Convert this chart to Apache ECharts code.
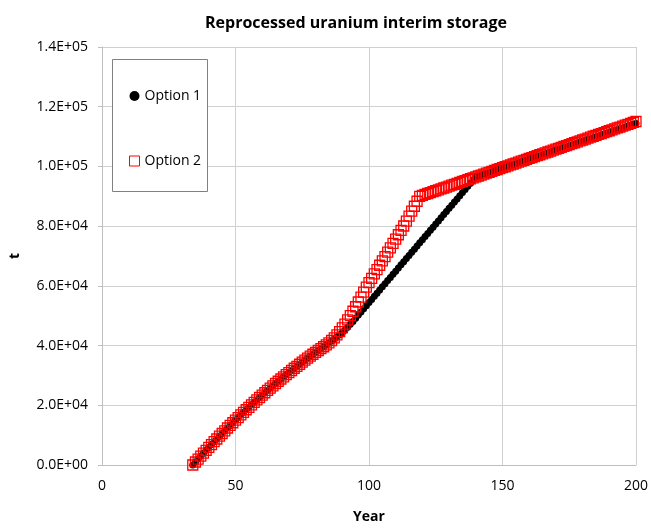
<!DOCTYPE html>
<html><head><meta charset="utf-8">
<script src="https://cdn.jsdelivr.net/npm/echarts@6/dist/echarts.min.js"></script>
<style>html,body{margin:0;padding:0;background:#fff}#c{width:651px;height:529px}</style>
</head><body><div id="c"></div>
<script>
var titleText = 'Reprocessed uranium interim storage';
var xName = 'Year';
var yName = 't';
var seriesNames = ['Option 1', 'Option 2'];

var years = [34,35,36,37,38,39,40,41,42,43,44,45,46,47,48,49,50,51,52,53,54,55,56,57,58,59,60,61,62,63,64,65,66,67,68,69,70,71,72,73,74,75,76,77,78,79,80,81,82,83,84,
85,86,87,88,89,90,91,92,93,94,95,96,97,98,99,100,101,102,103,104,105,106,107,108,109,110,111,112,113,114,115,116,117,118,119,120,121,122,123,124,125,126,127,128,129,130,131,132,133,134,135,136,137,138,139,140,
141,142,143,144,145,146,147,148,149,150,151,152,153,154,155,156,157,158,159,160,161,162,163,164,165,166,167,168,169,170,171,172,173,174,175,176,177,178,179,180,181,182,183,184,185,186,187,188,189,190,191,192,193,194,195,196,197,198,199,200];

var option1 = [0,1000,2000,3000,3950,4900,5900,6850,7800,8700,9650,10550,11450,12400,13250,14150,15050,15900,16800,17650,18500,19300,20150,21000,21800,22600,23400,24200,25000,25750,26500,27300,28050,28800,29500,30250,30950,31650,32400,33050,33750,34450,35100,35800,36450,37100,37700,38350,39000,39600,40200,
40850,41500,42150,42850,43600,44400,45250,46150,47100,48100,49150,50200,51250,52300,53360,54410,55460,56510,57560,58620,59670,60720,61770,62820,63880,64930,65980,67030,68080,69140,70190,71240,72290,73340,74400,75450,76500,77550,78600,79660,80710,81760,82810,83860,84920,85970,87020,88070,89120,90180,91230,92280,93330,94380,95440,96480,
96700,97000,97300,97600,97900,98200,98500,98800,99100,99400,99700,100000,100300,100600,100900,101200,101500,101800,102100,102400,102700,103000,103300,103600,103900,104200,104500,104800,105100,105400,105700,106000,106300,106600,106900,107200,107500,107800,108100,108400,108700,109000,109300,109600,109900,110200,110500,110800,111100,111400,111700,112000,112300,112600,112900,113200,113500,113800,114100,114400];

var option2 = [0,1000,2000,3000,3950,4900,5900,6850,7800,8700,9650,10550,11450,12400,13250,14150,15050,15900,16800,17650,18500,19300,20150,21000,21800,22600,23400,24200,25000,25750,26500,27300,28050,28800,29500,30250,30950,31650,32400,33050,33750,34450,35100,35800,36450,37100,37700,38350,39000,39600,40200,
40900,41700,42600,43600,44700,45900,47200,48600,50000,51500,53000,54600,56200,57900,59600,61060,62520,63980,65440,66900,68360,69820,71280,72740,74200,75660,77120,78580,80040,81670,83330,85000,86670,88330,90000,
90310,90620,90930,91240,91550,91850,92160,92470,92780,93090,93400,93710,94020,94330,94640,94950,95260,95560,95870,96180,96490,96800,97110,97420,97730,98040,98350,98660,98970,99270,99580,99890,100200,100510,100820,101130,101440,101750,102060,102370,102680,102980,103290,103600,103910,104220,104530,104840,105150,105460,105770,106080,106390,106690,107000,107310,107620,107930,108240,108550,108860,109170,109480,109790,110100,110400,110710,111020,111330,111640,111950,112260,112570,112880,113190,113500,113810,114110,114420,114730,115040];

function pairs(xs, ys){ var out=[]; for (var i=0;i<ys.length;i++) out.push([xs[i], ys[i]]); return out; }
function sci(v){
  if (v === 0) return '0.0E+00';
  var e = Math.floor(Math.log10(Math.abs(v)) + 1e-9);
  var m = v / Math.pow(10, e);
  return m.toFixed(1) + 'E' + (e < 0 ? '-' : '+') + (Math.abs(e) < 10 ? '0' : '') + Math.abs(e);
}

var FONT = "'Open Sans',Arial,sans-serif";
var chart = echarts.init(document.getElementById('c'), null, {renderer:'canvas'});
chart.setOption({
  animation: false,
  backgroundColor: '#ffffff',
  textStyle: {fontFamily: FONT},
  title: {
    text: titleText, left: 351, top: 10, textAlign: 'center',
    textStyle: {fontFamily: FONT, fontSize: 16, fontWeight: 'bold', color: '#000'}
  },
  grid: {left: 98, right: 13, top: 47, bottom: 64, containLabel: false},
  xAxis: {
    type: 'value', min: 0, max: 200, interval: 50,
    name: xName, nameLocation: 'middle', nameGap: 45,
    nameTextStyle: {fontFamily: FONT, fontSize: 14, fontWeight: 'bold', color: '#000'},
    axisLine: {show: true, lineStyle: {color: '#bfbfbf'}},
    axisTick: {show: false},
    axisLabel: {fontFamily: FONT, fontSize: 14, color: '#000', margin: 14},
    splitLine: {show: true, lineStyle: {color: '#d0d0d0', width: 1}}
  },
  yAxis: {
    type: 'value', min: 0, max: 140000, interval: 20000,
    name: yName, nameLocation: 'middle', nameGap: 80, nameRotate: 90,
    nameTextStyle: {fontFamily: FONT, fontSize: 14, fontWeight: 'bold', color: '#000'},
    axisLine: {show: true, lineStyle: {color: '#bfbfbf'}},
    axisTick: {show: true, length: 4, lineStyle: {color: '#bfbfbf'}},
    axisLabel: {fontFamily: FONT, fontSize: 14, color: '#000', margin: 14, formatter: sci},
    splitLine: {show: true, lineStyle: {color: '#d0d0d0', width: 1}}
  },
  graphic: [{
    type: 'rect', left: 112, top: 59, z: 50,
    shape: {width: 95, height: 132},
    style: {fill: '#ffffff', stroke: '#808080', lineWidth: 1}
  }],
  legend: {
    orient: 'vertical', left: 124, top: 84, z: 60,
    itemGap: 51, itemWidth: 10, itemHeight: 10,
    textStyle: {fontFamily: FONT, fontSize: 14, color: '#000'},
    data: [
      {name: seriesNames[0], icon: 'circle', itemStyle: {color: '#000000', borderWidth: 0}},
      {name: seriesNames[1], icon: 'rect', itemStyle: {color: '#ffffff', borderColor: '#ff0000', borderWidth: 1}}
    ]
  },
  series: [
    {
      name: seriesNames[0], type: 'scatter', symbol: 'circle', symbolSize: 7,
      itemStyle: {color: '#000000', opacity: 1},
      data: pairs(years, option1)
    },
    {
      name: seriesNames[1], type: 'scatter', symbol: 'rect', symbolSize: 10,
      itemStyle: {color: 'rgba(255,255,255,0)', borderColor: '#ff0000', borderWidth: 1.3, opacity: 1},
      data: pairs(years, option2)
    }
  ]
});
</script>
</body></html>
